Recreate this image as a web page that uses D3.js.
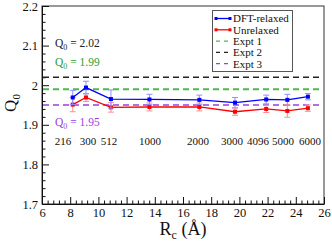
<!DOCTYPE html>
<html lang="en">
<head>
<meta charset="UTF-8">
<title>Q0 vs Rc</title>
<style>
  html, body { margin: 0; padding: 0; background: #fff; }
  svg text { font-family: "Liberation Serif", "Times New Roman", "DejaVu Serif", serif !important; }
</style>
</head>
<body>
<div id="wrapper"></div>
<script src="https://cdn.jsdelivr.net/npm/d3@7"></script>
<script>
// data
const rc = [8.18, 9.12, 10.89, 13.62, 17.16, 19.69, 21.9, 23.4, 24.86];
const relaxed = [1.969, 1.994, 1.965, 1.964, 1.963, 1.956, 1.964, 1.963, 1.971];
const relaxedErr = [0.018, 0.016, 0.023, 0.013, 0.012, 0.013, 0.011, 0.014, 0.008];
const unrelaxed = [1.951, 1.969, 1.944, 1.945, 1.945, 1.933, 1.940, 1.935, 1.942];
const unrelaxedErr = [0.018, 0.010, 0.012, 0.010, 0.010, 0.009, 0.009, 0.016, 0.008];

const sizeLabels = ["216", "300", "512", "1000", "2000", "3000", "4096", "5000", "6000"];
const sizeLabelX = [7.49, 9.26, 10.75, 13.66, 17.06, 19.48, 21.32, 23.09, 25.0];

const exptNames = ["Expt 1", "Expt 2", "Expt 3"];
const exptValues = [1.99, 2.02, 1.95];
const exptColors = ["#4fb84f", "#222", "#9a3fe0"];

const xTicks = [6, 8, 10, 12, 14, 16, 18, 20, 22, 24, 26];
const yTicks = [1.7, 1.8, 1.9, 2.0, 2.1, 2.2];

const serif = '"Liberation Serif", "Times New Roman", serif';
const W = 332, H = 244;
const svg = d3.select('#wrapper').append('svg')
    .attr('width', W).attr('height', H)
    .attr('font-family', serif);

const mLeft = 42, mRight = 324, mTop = 6, mBottom = 204;

const x = d3.scaleLinear().domain([6, 26]).range([mLeft, mRight]);
const y = d3.scaleLinear().domain([1.7, 2.2]).range([mBottom, mTop]);

// frame
svg.append('rect')
    .attr('x', mLeft).attr('y', mTop)
    .attr('width', mRight - mLeft).attr('height', mBottom - mTop)
    .attr('fill', 'none').attr('stroke', '#333').attr('stroke-width', 1);

// minor ticks
const xMinor = d3.range(6, 26.001, 0.4).filter(v => Math.abs(v / 2 - Math.round(v / 2)) > 1e-6);
const yMinor = d3.range(1.7, 2.2001, 0.02).filter(v => Math.abs(v * 10 - Math.round(v * 10)) > 1e-6);

svg.append('g')
    .attr('transform', `translate(0,${mBottom})`)
    .call(d3.axisBottom(x).tickValues(xMinor).tickSize(-3.5).tickFormat(''))
    .call(g => g.select('.domain').remove());
svg.append('g')
    .attr('transform', `translate(${mLeft},0)`)
    .call(d3.axisLeft(y).tickValues(yMinor).tickSize(-3.5).tickFormat(''))
    .call(g => g.select('.domain').remove());

// major ticks
const xAxis = svg.append('g')
    .attr('transform', `translate(0,${mBottom})`)
    .call(d3.axisBottom(x).tickValues(xTicks).tickSizeInner(-7).tickSizeOuter(0).tickPadding(4)
        .tickFormat(d => d));
const yAxis = svg.append('g')
    .attr('transform', `translate(${mLeft},0)`)
    .call(d3.axisLeft(y).tickValues(yTicks).tickSizeInner(-7).tickSizeOuter(0).tickPadding(4)
        .tickFormat(d => String(+d.toFixed(1))));

[xAxis, yAxis].forEach(g => {
    g.attr('font-family', serif);
    g.select('.domain').attr('stroke', '#111');
    g.selectAll('.tick text').attr('font-size', 12.5).attr('fill', '#111');
});
svg.selectAll('.tick line').attr('stroke', '#111');

// experimental dashed lines
exptValues.forEach((v, i) => {
    svg.append('line')
        .attr('x1', mLeft + 1).attr('x2', mRight - 1)
        .attr('y1', y(v)).attr('y2', y(v))
        .attr('stroke', exptColors[i])
        .attr('stroke-width', i === 0 ? 2 : 1.5)
        .attr('stroke-dasharray', '6,4');
});

// annotations
function q0Text(str, px, py, color) {
    const t = svg.append('text').attr('x', px).attr('y', py)
        .attr('font-size', 11.5).attr('fill', color);
    t.append('tspan').text('Q');
    t.append('tspan').text('0').attr('font-size', 8).attr('dy', 3);
    t.append('tspan').text(' = ' + str).attr('dy', -3);
}
q0Text('2.02', 55, 47, '#222');
q0Text('1.99', 55, 66, '#2e9e2e');
q0Text('1.95', 55, 126, '#9a3fe0');

// system sizes
svg.append('g').selectAll('text')
    .data(sizeLabels)
    .join('text')
    .attr('x', (d, i) => x(sizeLabelX[i]))
    .attr('y', 145)
    .attr('text-anchor', 'middle')
    .attr('font-size', 11)
    .attr('fill', '#111')
    .text(d => d);

// series
function drawSeries(vals, errs, color, errColor) {
    const pts = rc.map((r, i) => ({ x: r, y: vals[i], e: errs[i] }));
    const g = svg.append('g');
    g.selectAll('.err')
        .data(pts)
        .join('g')
        .each(function (d) {
            const s = d3.select(this);
            const cx = x(d.x);
            s.append('line').attr('x1', cx).attr('x2', cx)
                .attr('y1', y(d.y - d.e)).attr('y2', y(d.y + d.e));
            s.append('line').attr('x1', cx - 3).attr('x2', cx + 3)
                .attr('y1', y(d.y - d.e)).attr('y2', y(d.y - d.e));
            s.append('line').attr('x1', cx - 3).attr('x2', cx + 3)
                .attr('y1', y(d.y + d.e)).attr('y2', y(d.y + d.e));
            s.selectAll('line').attr('stroke', errColor).attr('stroke-width', 1);
        });
    g.append('path')
        .attr('d', d3.line().x(d => x(d.x)).y(d => y(d.y))(pts))
        .attr('fill', 'none').attr('stroke', color).attr('stroke-width', 1.3);
    g.selectAll('rect')
        .data(pts)
        .join('rect')
        .attr('x', d => x(d.x) - 2).attr('y', d => y(d.y) - 2)
        .attr('width', 4).attr('height', 4)
        .attr('fill', color);
}
drawSeries(unrelaxed, unrelaxedErr, '#ff0000', '#ff8f8f');
drawSeries(relaxed, relaxedErr, '#0000ff', '#8f8fff');

// legend
const lg = svg.append('g');
lg.append('rect')
    .attr('x', 212.5).attr('y', 10.5).attr('width', 80).attr('height', 61)
    .attr('fill', '#fff').attr('stroke', '#555').attr('stroke-width', 1);
const legendItems = [
    { name: 'DFT-relaxed', color: '#0000ff', dash: null },
    { name: 'Unrelaxed', color: '#ff0000', dash: null },
    { name: exptNames[0], color: exptColors[0], dash: '4,4' },
    { name: exptNames[1], color: exptColors[1], dash: '4,4' },
    { name: exptNames[2], color: exptColors[2], dash: '4,4' }
];
legendItems.forEach((d, i) => {
    const yy = 18.5 + i * 11.3;
    lg.append('line')
        .attr('x1', 216).attr('x2', 230)
        .attr('y1', yy).attr('y2', yy)
        .attr('stroke', d.color).attr('stroke-width', 1.3)
        .attr('stroke-dasharray', d.dash);
    if (!d.dash) {
        [216, 230].forEach(px => lg.append('rect')
            .attr('x', px - 1.5).attr('y', yy - 1.5).attr('width', 3).attr('height', 3)
            .attr('fill', d.color));
    }
    lg.append('text')
        .attr('x', 233).attr('y', yy + 3.8)
        .attr('font-size', 11).attr('fill', '#111')
        .text(d.name);
});

// axis titles
const xt = svg.append('text')
    .attr('x', (mLeft + mRight) / 2).attr('y', 235)
    .attr('text-anchor', 'middle').attr('font-size', 18).attr('fill', '#111');
xt.append('tspan').text('R');
xt.append('tspan').text('c').attr('font-size', 12).attr('dy', 4);
xt.append('tspan').text(' (Å)').attr('dy', -4);

const yt = svg.append('text')
    .attr('transform', `translate(16,103) rotate(-90)`)
    .attr('text-anchor', 'middle').attr('font-size', 17).attr('fill', '#111');
yt.append('tspan').text('Q');
yt.append('tspan').text('0').attr('font-size', 11).attr('dy', 4);
</script>
</body>
</html>
